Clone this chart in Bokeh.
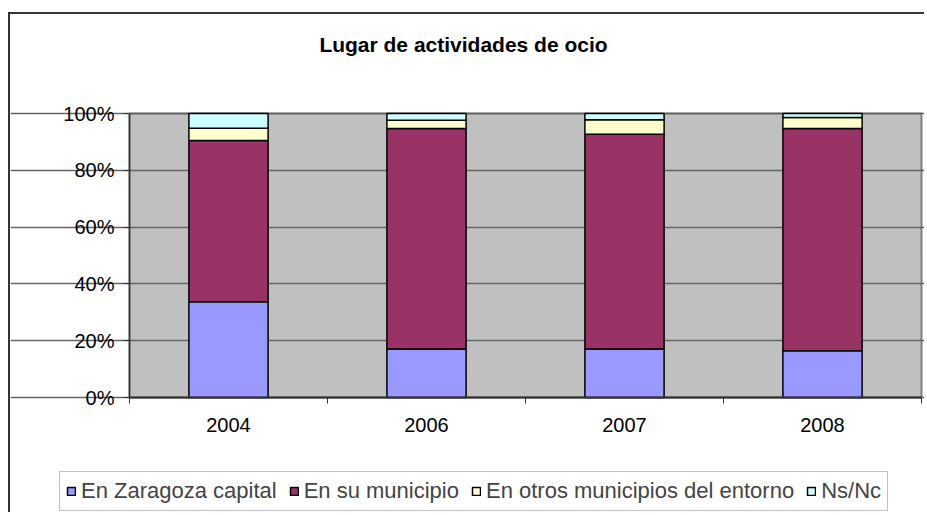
from bokeh.plotting import figure
from bokeh.models import FixedTicker, Range1d, Legend, LegendItem, Label
from bokeh.embed import file_html
from bokeh.resources import INLINE

years = ["2004", "2006", "2007", "2008"]
zaragoza = [33.7, 17.1, 17.1, 16.5]
municipio = [56.8, 77.6, 75.6, 78.2]
otros = [4.3, 2.9, 5.1, 3.9]
nsnc = [5.2, 2.4, 2.2, 1.4]
series_names = ["En Zaragoza capital", "En su municipio", "En otros municipios del entorno", "Ns/Nc"]
colors = ["#9999FF", "#993366", "#FFFFCC", "#CCFFFF"]
y_ticks = [0, 20, 40, 60, 80, 100]
title_text = "Lugar de actividades de ocio"

FONT = "Liberation Sans"

# layout (pixels inside the canvas)
W, H = 916, 500
AREA_L, AREA_R, AREA_T, AREA_B = 119, 911, 99, 383   # gray plot area edges
n = len(years)
ymin, ymax = y_ticks[0], y_ticks[-1]
px_x = (AREA_R - AREA_L) / n
px_y = (AREA_B - AREA_T) / (ymax - ymin)
x_range = Range1d(-AREA_L / px_x, n + (W - AREA_R) / px_x)
y_range = Range1d(ymin - (H - AREA_B) / px_y, ymax + AREA_T / px_y)

xs = [i + 0.5 for i in range(n)]
data = dict(x=xs, a=zaragoza, b=municipio, c=otros, d=nsnc)

p = figure(width=W, height=H, output_backend="svg", toolbar_location=None,
           x_range=x_range, y_range=y_range,
           min_border_left=0, min_border_right=0, min_border_top=0, min_border_bottom=0)
p.styles = {"border-left": "2px solid #333333", "border-top": "2px solid #333333",
            "margin-top": "12px", "margin-left": "8px"}
p.background_fill_color = "white"
p.border_fill_color = "white"
p.outline_line_color = None

# gray plot area
p.quad(left=[0], right=[n], bottom=[ymin], top=[ymax], fill_color="#C0C0C0",
       line_color="#808080", line_width=2, level="image")

rs = p.vbar_stack(["a", "b", "c", "d"], x="x", width=0.4, source=data,
                  fill_color=colors, line_color="black", line_width=1.5)

p.xgrid.visible = False
p.ygrid.ticker = FixedTicker(ticks=y_ticks)
p.ygrid.bounds = (0, n)
p.ygrid.grid_line_color = "#636363"
p.ygrid.grid_line_width = 1.5

p.yaxis.fixed_location = 0
p.yaxis.bounds = (ymin, ymax)
p.yaxis.ticker = FixedTicker(ticks=y_ticks)
p.yaxis.major_label_overrides = {t: f"{t}%" for t in y_ticks}
p.yaxis.major_tick_out = 6
p.yaxis.major_tick_in = 0
p.yaxis.minor_tick_line_color = None
p.yaxis.major_label_standoff = 9
p.yaxis.axis_line_color = "#333333"
p.yaxis.axis_line_width = 1.5
p.yaxis.major_tick_line_color = "#333333"

p.xaxis.fixed_location = ymin
p.xaxis.bounds = (0, n)
p.xaxis.ticker = FixedTicker(ticks=xs, minor_ticks=list(range(n + 1)))
p.xaxis.major_label_overrides = {x: y for x, y in zip(xs, years)}
p.xaxis.major_tick_out = 0
p.xaxis.major_tick_in = 0
p.xaxis.minor_tick_out = 6
p.xaxis.minor_tick_in = 0
p.xaxis.minor_tick_line_color = "#333333"
p.xaxis.major_label_standoff = 14
p.xaxis.axis_line_color = "#333333"
p.xaxis.axis_line_width = 2

for ax in (p.xaxis, p.yaxis):
    ax.major_label_text_font = FONT
    ax.major_label_text_font_size = "20px"
    ax.major_label_text_color = "black"

p.add_layout(Label(x=453, y=H - 30, x_units="screen", y_units="screen", text=title_text,
                   text_align="center", text_baseline="middle", text_font=FONT,
                   text_font_size="21px", text_font_style="bold", text_color="black"))

legend = Legend(items=[LegendItem(label=s, renderers=[r]) for s, r in zip(series_names, rs)],
                orientation="horizontal", location=(49, 3),
                label_text_font=FONT, label_text_font_size="22px",
                glyph_width=10, glyph_height=10, label_standoff=5, spacing=12,
                padding=6, margin=0, border_line_color="#808080", border_line_width=1.5,
                background_fill_color="white", background_fill_alpha=1)
p.add_layout(legend, "center")

open("out.html", "w").write(file_html(p, INLINE))
